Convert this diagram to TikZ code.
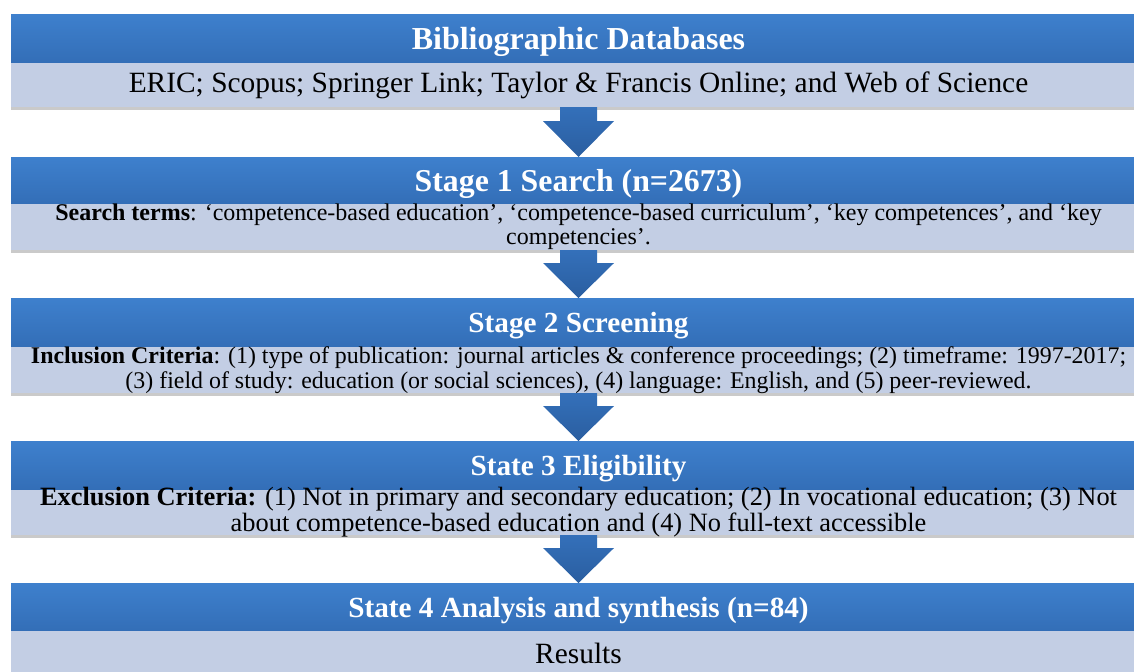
\documentclass[tikz,border=0pt]{standalone}
\usepackage{fontspec}
\setmainfont{Liberation Serif}
\usetikzlibrary{calc,shadows}

\definecolor{headTop}{RGB}{62,128,205}
\definecolor{headBot}{RGB}{51,110,183}
\definecolor{bodyFill}{RGB}{195,206,228}
\definecolor{arrowTop}{RGB}{52,112,186}
\definecolor{arrowBot}{RGB}{42,94,160}

\begin{document}
\begin{tikzpicture}[x=0.5pt,y=-0.5pt,
    header/.style={rectangle,anchor=north,minimum width=567.5pt,inner sep=0pt,outer sep=0pt,text depth=0pt,top color=headTop,bottom color=headBot,text=white},
    body/.style={rectangle,anchor=north,minimum width=567.5pt,inner xsep=0pt,inner ysep=-3pt,outer sep=0pt,fill=bodyFill,align=center,
        drop shadow={shadow xshift=0pt,shadow yshift=-1.5pt,opacity=0.35,fill=black!60}},
    blockArrow/.style={top color=arrowTop,bottom color=arrowBot}]
    \useasboundingbox (0,0) rectangle (1134,671);
    \clip (0,0) rectangle (1134,671);

    % databases
    \node[header,minimum height=24.5pt,font=\fontsize{16}{18}\bfseries\selectfont] (head1) at (578.5,14) {Bibliographic Databases};
    \node[body,minimum height=22pt,font=\fontsize{14.7}{16}\selectfont] (body1) at (578.5,63) {ERIC; Scopus; Springer Link; Taylor \& Francis Online; and Web of Science};

    % stage 1
    \node[header,minimum height=23.5pt,font=\fontsize{15.9}{18}\bfseries\selectfont] (head2) at (578.5,157) {Stage 1 Search (n=2673)};
    \node[body,minimum height=23pt,font=\fontsize{12}{12}\selectfont] (body2) at (578.5,204) {\textbf{Search terms}: ‘competence-based education’, ‘competence-based curriculum’, ‘key competences’, and ‘key\\competencies’.};

    % stage 2
    \node[header,minimum height=24.5pt,font=\fontsize{14.6}{16}\bfseries\selectfont] (head3) at (578.5,298) {Stage 2 Screening};
    \node[body,minimum height=23pt,font=\fontsize{11.95}{12.5}\selectfont] (body3) at (578.5,347) {\textbf{Inclusion Criteria}: (1) type of publication: journal articles \& conference proceedings; (2) timeframe: 1997-2017;\\(3) field of study: education (or social sciences), (4) language: English, and (5) peer-reviewed.};

    % stage 3
    \node[header,minimum height=24.5pt,font=\fontsize{14.6}{16}\bfseries\selectfont] (head4) at (578.5,441) {State 3 Eligibility};
    \node[body,minimum height=22.5pt,font=\fontsize{13.2}{13}\selectfont] (body4) at (578.5,490) {\textbf{Exclusion Criteria:} (1) Not in primary and secondary education; (2) In vocational education; (3) Not\\about competence-based education and (4) No full-text accessible};

    % stage 4
    \node[header,minimum height=24pt,font=\fontsize{14.6}{16}\bfseries\selectfont] (head5) at (578.5,583) {State 4 Analysis and synthesis (n=84)};
    \node[body,minimum height=22pt,font=\fontsize{14.7}{16}\selectfont] (body5) at (578.5,631) {Results};

    % arrows
    \shade[blockArrow] ($(body1.south)+(-18.5,0)$) -- ($(body1.south)+(18.5,0)$) -- ($(body1.south)+(18.5,14)$) -- ($(body1.south)+(35.5,14)$) -- (head2.north) -- ($(body1.south)+(-35.5,14)$) -- ($(body1.south)+(-18.5,14)$) -- cycle;
    \shade[blockArrow] ($(body2.south)+(-18.5,0)$) -- ($(body2.south)+(18.5,0)$) -- ($(body2.south)+(18.5,13)$) -- ($(body2.south)+(35.5,13)$) -- (head3.north) -- ($(body2.south)+(-35.5,13)$) -- ($(body2.south)+(-18.5,13)$) -- cycle;
    \shade[blockArrow] ($(body3.south)+(-18.5,0)$) -- ($(body3.south)+(18.5,0)$) -- ($(body3.south)+(18.5,13)$) -- ($(body3.south)+(35.5,13)$) -- (head4.north) -- ($(body3.south)+(-35.5,13)$) -- ($(body3.south)+(-18.5,13)$) -- cycle;
    \shade[blockArrow] ($(body4.south)+(-18.5,0)$) -- ($(body4.south)+(18.5,0)$) -- ($(body4.south)+(18.5,13)$) -- ($(body4.south)+(35.5,13)$) -- (head5.north) -- ($(body4.south)+(-35.5,13)$) -- ($(body4.south)+(-18.5,13)$) -- cycle;
\end{tikzpicture}
\end{document}
